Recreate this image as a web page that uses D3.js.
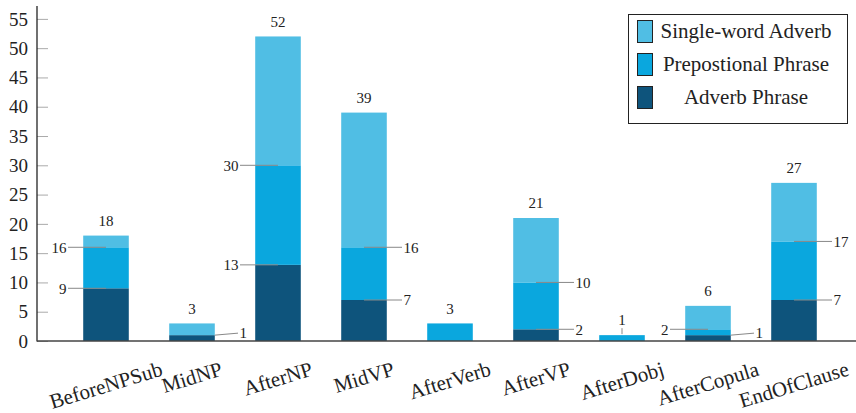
<!DOCTYPE html>
<html>
<head>
<meta charset="utf-8">
<script src="https://cdn.jsdelivr.net/npm/d3@7"></script>
<style>
	body { margin: 0; background: #fff; }
	svg { display: block; font-family: "Liberation Serif", "DejaVu Serif", serif; }
</style>
</head>
<body>
<svg id="chart" width="856" height="413"></svg>
<script>
	'use strict';

	var categories = ['BeforeNPSub', 'MidNP', 'AfterNP', 'MidVP', 'AfterVerb', 'AfterVP', 'AfterDobj', 'AfterCopula', 'EndOfClause'];
	var adverbPhrase = [9, 1, 13, 7, 0, 2, 0, 1, 7];
	var prepPhrase = [7, 0, 17, 9, 3, 8, 1, 1, 10];
	var singleWord = [2, 2, 22, 23, 0, 11, 0, 4, 10];
	var yTicks = [0, 5, 10, 15, 20, 25, 30, 35, 40, 45, 50, 55];

	var seriesNames = ['Single-word Adverb', 'Prepostional Phrase', 'Adverb Phrase'];
	var colors = {ap: '#0e547c', pp: '#0aa7de', sw: '#50bee4'};
	// which inner labels sit on the left of their bar
	var leftLabelled = ['BeforeNPSub:ap', 'BeforeNPSub:pp', 'AfterNP:ap', 'AfterNP:pp', 'AfterCopula:pp'];

	var rows = categories.map(function(c, i) {
		return {cat: c, ap: adverbPhrase[i], pp: prepPhrase[i], sw: singleWord[i]};
	});

	var svg = d3.select('#chart');
	var x = d3.scaleBand().domain(categories).range([63, 837]).paddingInner(0.47).paddingOuter(0.235);
	var y = d3.scaleLinear().domain([0, 57.2]).range([341, 6]);

	var stack = d3.stack().keys(['ap', 'pp', 'sw'])(rows);

	// bars
	svg.append('g').selectAll('g').data(stack).join('g')
		.attr('fill', function(s) { return colors[s.key]; })
		.selectAll('rect').data(function(s) { return s; }).join('rect')
		.attr('x', function(d) { return x(d.data.cat); })
		.attr('width', x.bandwidth())
		.attr('y', function(d) { return y(d[1]); })
		.attr('height', function(d) { return y(d[0]) - y(d[1]); });

	// y axis, ticks pointing inward
	var yAxis = svg.append('g').attr('transform', 'translate(37,0)')
		.call(d3.axisRight(y).tickValues(yTicks).tickSize(11).tickFormat(''));
	yAxis.select('.domain').remove();
	yAxis.selectAll('.tick line').attr('stroke', '#aaa');
	svg.append('g').selectAll('text').data(yTicks).join('text')
		.attr('x', 28).attr('y', function(d) { return y(d); })
		.attr('dy', '0.35em').attr('text-anchor', 'end')
		.attr('font-size', 19).attr('fill', '#222')
		.text(function(d) { return d; });
	svg.append('line').attr('x1', 37).attr('x2', 37).attr('y1', 6).attr('y2', 341.5)
		.attr('stroke', '#111').attr('stroke-width', 1.2);
	svg.append('line').attr('x1', 37).attr('x2', 856).attr('y1', 341).attr('y2', 341)
		.attr('stroke', '#444').attr('stroke-width', 1.5);

	// inner cumulative labels with leader lines
	var notes = [];
	rows.forEach(function(r) {
		var cum = 0;
		[['ap', r.ap], ['pp', r.pp]].forEach(function(p, k) {
			cum += p[1];
			var above = k === 0 ? r.pp + r.sw : r.sw;
			if (p[1] > 0 && above > 0) {
				notes.push({cat: r.cat, value: cum, left: leftLabelled.indexOf(r.cat + ':' + p[0]) >= 0});
			}
		});
	});
	var ann = svg.append('g');
	notes.forEach(function(n) {
		var cx = x(n.cat) + x.bandwidth() / 2;
		var thin = n.value === 1;
		var off = thin ? 46 : 38;
		var ly = y(n.value) - (thin ? 2 : 0);
		var lx = n.left ? cx - off : cx + off;
		ann.append('line')
			.attr('x1', n.left ? cx : (thin ? x(n.cat) + x.bandwidth() : cx)).attr('y1', y(n.value))
			.attr('x2', lx).attr('y2', ly)
			.attr('stroke', '#888').attr('stroke-width', 1);
		ann.append('text')
			.attr('x', n.left ? lx - 1.5 : lx + 1.5).attr('y', ly).attr('dy', '0.35em')
			.attr('text-anchor', n.left ? 'end' : 'start')
			.attr('font-size', 15).attr('fill', '#222')
			.text(n.value);
	});

	// totals above bars
	rows.forEach(function(r) {
		var total = r.ap + r.pp + r.sw;
		var cx = x(r.cat) + x.bandwidth() / 2;
		var single = [r.ap, r.pp, r.sw].filter(function(v) { return v > 0; }).length === 1;
		if (single && total === 1) {
			ann.append('line').attr('x1', cx).attr('x2', cx)
				.attr('y1', y(total) - 1).attr('y2', y(total) - 7)
				.attr('stroke', '#888');
		}
		ann.append('text')
			.attr('x', cx).attr('y', y(total) - 15).attr('dy', '0.35em')
			.attr('text-anchor', 'middle').attr('font-size', 15).attr('fill', '#222')
			.text(total);
	});

	// rotated category labels
	var angle = 17, rad = angle * Math.PI / 180;
	svg.append('g').selectAll('text').data(categories).join('text')
		.attr('font-size', 21).attr('fill', '#222').attr('text-anchor', 'middle')
		.text(function(d) { return d; })
		.each(function(d) {
			var w = this.getComputedTextLength(), h = 20;
			var cx = x(d) + x.bandwidth() / 2;
			var cy = 359 + (w * Math.sin(rad) + h * Math.cos(rad)) / 2;
			d3.select(this).attr('x', 0).attr('y', 0).attr('dy', '0.32em')
				.attr('transform', 'translate(' + cx + ',' + cy + ') rotate(' + (-angle) + ')');
		});

	// legend
	var legend = svg.append('g');
	legend.append('rect').attr('x', 628.5).attr('y', 14.5).attr('width', 219).attr('height', 109)
		.attr('fill', '#fff').attr('stroke', '#222');
	var legendKeys = ['sw', 'pp', 'ap'];
	var swatchY = [20, 53, 86];
	seriesNames.forEach(function(name, i) {
		legend.append('rect').attr('x', 637.5).attr('y', swatchY[i] + 0.5).attr('width', 15).attr('height', 22)
			.attr('fill', colors[legendKeys[i]]).attr('stroke', '#222');
		legend.append('text').attr('x', 746).attr('y', swatchY[i] + 11).attr('dy', '0.35em')
			.attr('text-anchor', 'middle').attr('font-size', 21).attr('fill', '#222')
			.text(name);
	});
</script>
</body>
</html>
